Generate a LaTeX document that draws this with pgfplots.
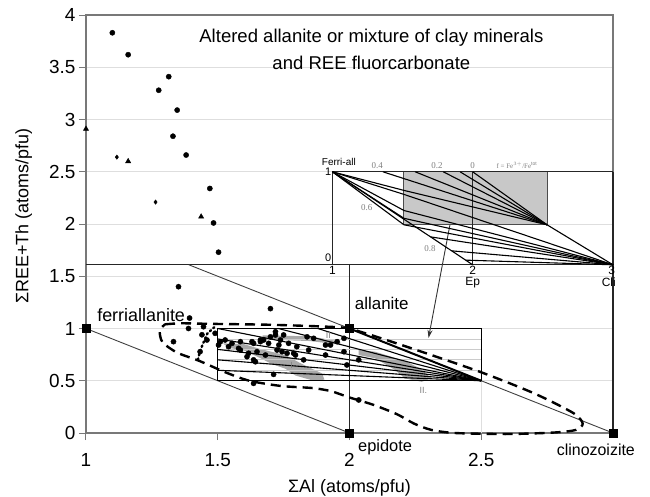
\documentclass[border=0pt]{standalone}
\usepackage{fontspec}
\setmainfont{Liberation Sans}
\newfontfamily\smallserif{Liberation Serif}
\usepackage{pgfplots}
\pgfplotsset{compat=1.18}
\usetikzlibrary{arrows.meta}
\definecolor{axgray}{RGB}{120,120,120}
\definecolor{gridgray}{RGB}{222,222,222}
\definecolor{blobgray}{RGB}{168,168,168}
\definecolor{insetgray}{RGB}{200,200,200}
\begin{document}
\begin{tikzpicture}
\begin{axis}[
 at={(0,0)}, anchor=south west,
 scale only axis, width=527bp, height=418bp,
 xmin=1, xmax=3, ymin=0, ymax=4,
 xtick={1,1.5,2,2.5}, ytick={0,0.5,1,1.5,2,2.5,3,3.5,4},
 ymajorgrids, grid style={gridgray, line width=1bp},
 axis line style={axgray, line width=1.2bp},
 tick style={axgray, line width=1bp},
 tick align=outside, major tick length=7bp,
 xtick pos=lower, ytick pos=left,
 /pgf/number format/assume math mode=true,
 ticklabel style={font=\fontsize{19}{22}\selectfont},
 xticklabel style={yshift=-10bp},
 clip=false,
 xlabel={ΣAl (atoms/pfu)}, ylabel={ΣREE+Th (atoms/pfu)},
 label style={font=\fontsize{18}{21}\selectfont},
 xlabel style={at={(axis description cs:0.5,-0.1316)}, anchor=center},
 ylabel style={at={(axis description cs:-0.118,0.519)}, anchor=center},
]
% vertical grid piece
\addplot[gridgray, line width=1bp] coordinates {(2.5,0) (2.5,0.5)};
% structural lines
\addplot[black!85, line width=1.2bp] coordinates {(1,1.61) (3,1.61)};
\addplot[black!85, line width=1.3bp] coordinates {(2,0) (2,1.61)};
\addplot[black!85, line width=1.3bp] coordinates {(3,0) (3,2.5)};
\addplot[black!75, line width=0.9bp] coordinates {(1,1) (2,0)};
\addplot[black!75, line width=0.9bp] coordinates {(1.39,1.61) (3,0)};
% grey blobs
\addplot[fill=blobgray, draw=none] coordinates {(1.52,0.858) (1.60,0.85) (1.667,0.80) (1.757,0.745) (1.82,0.66) (1.896,0.57) (1.905,0.51) (1.857,0.505) (1.795,0.55) (1.757,0.615) (1.705,0.66) (1.667,0.71) (1.60,0.79) (1.54,0.815)} -- cycle;
\addplot[fill=blobgray, draw=none] coordinates {(1.67,0.935) (1.85,0.925) (1.965,0.875) (1.965,0.845) (1.85,0.88) (1.67,0.895)} -- cycle;
\addplot[fill=blobgray, draw=none] coordinates {(2.035,0.794) (2.097,0.778) (2.21,0.69) (2.274,0.61) (2.31,0.523) (2.274,0.49) (2.21,0.523) (2.173,0.603) (2.097,0.715) (2.035,0.746)} -- cycle;
% main rectangle
\addplot[gridgray!80!gray, line width=0.8bp] coordinates {(1.5,0.6) (2.5,0.6)};
\addplot[gridgray!80!gray, line width=0.8bp] coordinates {(1.5,0.7) (2.5,0.7)};
\addplot[gridgray!80!gray, line width=0.8bp] coordinates {(1.5,0.8) (2.5,0.8)};
\addplot[gridgray!80!gray, line width=0.8bp] coordinates {(1.5,0.9) (2.5,0.9)};
\addplot[black, line width=1.3bp] coordinates {(1.5,0.5) (2.5,0.5) (2.5,1) (1.5,1)} -- cycle;
\addplot[black, line width=2bp] coordinates {(2,1) (2.5,0.5)};
\addplot[black, line width=1.1bp] coordinates {(1.88,1) (2.5,0.5)};
\addplot[black, line width=1.1bp] coordinates {(1.73,1) (2.5,0.5)};
\addplot[black, line width=1.1bp] coordinates {(1.5,1) (2.5,0.5)};
\addplot[black, line width=1.1bp] coordinates {(1.5,0.9) (2.5,0.5)};
\addplot[black, line width=1.1bp] coordinates {(1.5,0.8) (2.5,0.5)};
\addplot[black, line width=1.1bp] coordinates {(1.5,0.7) (2.5,0.5)};
\addplot[black, line width=1.1bp] coordinates {(1.5,0.6) (2.5,0.5)};
% dashed envelope
\addplot[black, line width=2.4bp, dash pattern=on 10bp off 6bp, smooth, tension=0.45] coordinates {
(1.30,1.04) (1.36,1.05) (1.46,1.045) (1.71,1.035) (1.97,1.01) (2.04,0.97) (2.2,0.84) (2.49,0.59) (2.7,0.38) (2.85,0.19) (2.885,0.09) (2.86,0.03) (2.78,0.005) (2.6,-0.01) (2.4,0.0) (2.31,0.03) (2.245,0.09) (2.18,0.18) (2.09,0.27) (2.0,0.34) (1.93,0.40) (1.86,0.43) (1.74,0.45) (1.62,0.50) (1.53,0.58) (1.43,0.69) (1.345,0.77) (1.29,0.87) (1.28,0.98) (1.30,1.04)};
\addplot[black, line width=2.4bp, dash pattern=on 1.5bp off 3bp, line cap=round] coordinates {(1.425,0.70) (1.432,0.78) (1.445,0.86) (1.46,0.95) (1.49,1.02)};
% data points
\addplot[only marks, mark=*, mark size=2.6bp, black] coordinates {
(1.10,3.83) (1.16,3.62) (1.314,3.41) (1.276,3.28) (1.346,3.09) (1.33,2.84) (1.38,2.66) (1.47,2.34) (1.484,2.01) (1.503,1.73) (1.351,1.40)
(1.393,1.10) (1.389,1.00) (1.44,0.94) (1.459,0.89) (1.332,0.874) (1.446,1.017) (1.49,0.954) (1.51,0.874) (1.503,0.842) (1.528,0.89) (1.541,0.826) (1.554,0.858) (1.586,0.874) (1.579,0.81) (1.586,0.794) (1.611,0.73) (1.617,0.763) (1.63,0.874) (1.636,0.858) (1.636,0.70) (1.643,0.682) (1.649,0.778) (1.662,0.874) (1.662,0.89) (1.674,0.89) (1.681,0.746) (1.693,0.858) (1.70,0.92) (1.719,0.938) (1.719,0.969) (1.732,0.842) (1.738,0.89) (1.75,0.938) (1.725,0.794) (1.744,0.778) (1.763,0.763) (1.769,0.858) (1.788,0.763) (1.795,0.746) (1.80,0.826) (1.826,0.70) (1.839,0.92) (1.845,0.794) (1.864,0.906) (1.909,0.842) (1.909,0.746) (1.928,0.842) (1.953,0.874) (1.979,0.906) (1.979,0.778) (1.99,0.651) (2.035,0.70) (1.712,0.561) (1.636,0.475) (2.035,0.316) (1.70,1.19) (1.433,0.778)};
\addplot[only marks, mark=triangle*, mark size=3bp, black] coordinates {(1.0,2.91) (1.16,2.60) (1.437,2.07)};
\addplot[only marks, mark=diamond*, mark size=2.2bp, black] coordinates {(1.117,2.64) (1.264,2.21)};
\addplot[only marks, mark=square*, mark size=4bp, black] coordinates {(1,1) (2,1) (2,0) (3,0)};
% arrow
\addplot[black!80, line width=0.9bp, -{Stealth[length=8bp,width=5bp]}] coordinates {(2.381,1.99) (2.30,0.91)};
% texts
\node[align=center, font=\fontsize{18.6}{27}\selectfont] at (axis cs:2.083,3.675) {Altered allanite or mixture of clay minerals\\and REE fluorcarbonate};
\node[anchor=west, font=\fontsize{18}{21}\selectfont, inner sep=0pt] at (axis cs:1.042,1.13) {ferriallanite};
\node[anchor=west, font=\fontsize{17}{20}\selectfont, inner sep=0pt] at (axis cs:2.02,1.244) {allanite};
\node[anchor=west, font=\fontsize{16.5}{20}\selectfont, inner sep=0pt] at (axis cs:2.032,-0.134) {epidote};
\node[font=\fontsize{16}{20}\selectfont, inner sep=0pt] at (axis cs:2.935,-0.163) {clinozoizite};
\node[font=\fontsize{9}{10}\selectfont, text=gray] at (axis cs:1.78,0.65) {I};
\node[font=\fontsize{9}{10}\selectfont, text=gray] at (axis cs:1.92,0.93) {II};
\node[font=\fontsize{9}{10}\selectfont, text=gray] at (axis cs:2.28,0.41) {II.};
\end{axis}
% inset
\begin{axis}[
 at={(246.4bp,168.2bp)}, anchor=south west,
 scale only axis, width=280.6bp, height=93bp,
 xmin=1, xmax=3, ymin=0, ymax=1, hide axis, clip=false,
]
\addplot[fill=insetgray, draw=black!70, line width=1bp] coordinates {(1.51,0.43) (2.53,0.43) (2.53,1) (1.51,1)} -- cycle;
\addplot[black!85, line width=1.2bp] coordinates {(1,0) (1,1) (3,1)};
\addplot[black!85, line width=1.3bp] coordinates {(2,0) (2,1)};
\addplot[black, line width=1.1bp] coordinates {(1,1) (2,0)};
\addplot[black, line width=1.1bp] coordinates {(2.0,1) (2.53,0.43) (3,0)};
\addplot[black, line width=1.1bp] coordinates {(1.91,1) (2.53,0.43)};
\addplot[black, line width=1.1bp] coordinates {(1.79,1) (2.53,0.43)};
\addplot[black, line width=1.1bp] coordinates {(1.59,1) (2.53,0.43)};
\addplot[black, line width=1.1bp] coordinates {(1.36,1) (2.53,0.43)};
\addplot[black, line width=1.1bp] coordinates {(1,1) (1.51,0.80) (2.53,0.43)};
\addplot[black, line width=1.1bp] coordinates {(1,1) (1.51,0.757) (3,0)};
\addplot[black, line width=1.1bp] coordinates {(1,1) (1.51,0.584) (3,0)};
\addplot[black, line width=1.1bp] coordinates {(1,1) (1.51,0.50) (3,0)};
\addplot[black, line width=1.1bp] coordinates {(1,1) (1.51,0.43) (3,0)};
\addplot[black, line width=1.1bp] coordinates {(1.70,0.30) (3,0)};
\addplot[black, line width=1.1bp] coordinates {(1.85,0.15) (3,0)};
\addplot[black, line width=1.1bp] coordinates {(1.95,0.05) (3,0)};
\node[font=\fontsize{10}{12}\selectfont, anchor=south] at (axis cs:1.046,1.03) {Ferri-all};
\node[font=\smallserif\fontsize{9}{10}\selectfont, text=gray, anchor=south] at (axis cs:1.32,1.0) {0.4};
\node[font=\smallserif\fontsize{9}{10}\selectfont, text=gray, anchor=south] at (axis cs:1.745,1.0) {0.2};
\node[font=\smallserif\fontsize{9}{10}\selectfont, text=gray, anchor=south] at (axis cs:2.0,1.0) {0};
\node[font=\smallserif\fontsize{7}{8}\selectfont, text=gray, anchor=south] at (axis cs:2.315,1.0) {f = Fe$^{3+}$/Fe$^{\mathrm{tot}}$};
\node[font=\smallserif\fontsize{9}{10}\selectfont, text=gray] at (axis cs:1.244,0.616) {0.6};
\node[font=\smallserif\fontsize{9}{10}\selectfont, text=gray] at (axis cs:1.695,0.17) {0.8};
\node[font=\fontsize{11}{12}\selectfont, anchor=east, inner sep=1bp] at (axis cs:1,1) {1};
\node[font=\fontsize{11}{12}\selectfont, anchor=east, inner sep=1bp] at (axis cs:1,0.08) {0};
\node[font=\fontsize{12}{13}\selectfont, anchor=north, inner sep=0.5bp] at (axis cs:1,-0.01) {1};
\node[font=\fontsize{12}{13}\selectfont, anchor=north, inner sep=0.5bp] at (axis cs:2,-0.01) {2};
\node[font=\fontsize{12}{13}\selectfont, anchor=north, inner sep=0.5bp] at (axis cs:2,-0.13) {Ep};
\node[font=\fontsize{12}{13}\selectfont, anchor=north, inner sep=0.5bp] at (axis cs:2.99,-0.01) {3};
\node[font=\fontsize{12}{13}\selectfont, anchor=north, inner sep=0.5bp] at (axis cs:2.97,-0.13) {Cli};
\end{axis}
\pgfresetboundingbox
\path[use as bounding box] (-86bp,-64bp) rectangle (564bp,433bp);
\end{tikzpicture}
\end{document}
